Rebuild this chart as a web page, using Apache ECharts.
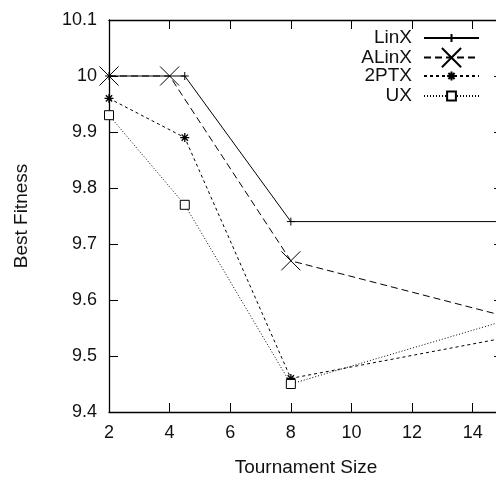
<!DOCTYPE html>
<html><head><meta charset="utf-8">
<script src="https://cdn.jsdelivr.net/npm/echarts@6/dist/echarts.min.js"></script>
<style>html,body{margin:0;padding:0;background:#fff}#c{width:496px;height:478px}</style>
</head><body><div id="c"></div>
<script>
const seriesNames = ['LinX', 'ALinX', '2PTX', 'UX'];
const linX  = [[2, 10.0], [4.5, 10.0], [8, 9.74], [16, 9.74]];
const aLinX = [[2, 10.0], [4, 10.0], [8, 9.67], [16, 9.558]];
const ptx2  = [[2, 9.96], [4.5, 9.89], [8, 9.46], [16, 9.542]];
const ux    = [[2, 9.93], [4.5, 9.77], [8, 9.45], [16, 9.578]];
const xTicks = [2, 4, 6, 8, 10, 12, 14];
const yTicks = [9.4, 9.5, 9.6, 9.7, 9.8, 9.9, 10, 10.1];

const FONT = 'Liberation Sans, Arial, sans-serif';
const C = '#000';
const TXT = '#111';
const symPlus = 'path://M0,-10L0,10M-10,0L10,0';
const symX = 'path://M-10,-10L10,10M-10,10L10,-10';
const symStar = 'path://M0,-10L0,10M-10,0L10,0M-7,-7L7,7M-7,7L7,-7';

function mk(name, data, sym, size, dash, fill, bw) {
  return {
    name, type: 'line', data,
    symbol: sym, symbolSize: size, showAllSymbol: true,
    itemStyle: {color: fill || C, borderColor: C, borderWidth: bw || 1},
    lineStyle: {color: C, width: 1, type: dash},
    clip: true, animation: false, z: 3
  };
}

const axisCommon = {
  axisLine: {show: true, lineStyle: {color: C, width: 1.3}},
  axisTick: {show: true, inside: true, length: 9, lineStyle: {color: C, width: 1}},
  splitLine: {show: false}
};

// one legend per entry so each sample marker can have its own size
const legendRows = [
  {name: 'LinX', center: 38, iconH: 10},
  {name: 'ALinX', center: 57, iconH: 24},
  {name: '2PTX', center: 76, iconH: 11},
  {name: 'UX', center: 96, iconH: 11}
];
const legends = legendRows.map(r => ({
  orient: 'vertical', align: 'right', right: 16, padding: 0,
  top: r.center - 10,
  itemWidth: 55, itemHeight: r.iconH, itemGap: 0,
  textStyle: {fontFamily: FONT, fontSize: 19, color: TXT, width: 62, height: 20, lineHeight: 20, align: 'right', padding: [0, 7, 0, 0]},
  data: [r.name]
}));

const chart = echarts.init(document.getElementById('c'), null, {renderer: 'canvas'});
chart.setOption({
  animation: false,
  backgroundColor: '#fff',
  textStyle: {fontFamily: FONT},
  grid: {left: 109, top: 20, right: -7, bottom: 66, containLabel: false, outerBoundsMode: 'none'},
  legend: legends,
  xAxis: [
    Object.assign({type: 'value', position: 'bottom', min: 2, max: 15, interval: 2,
      name: 'Tournament Size', nameLocation: 'middle', nameGap: 46,
      nameTextStyle: {fontFamily: FONT, fontSize: 19, color: TXT},
      axisLabel: {fontFamily: FONT, fontSize: 18, color: TXT, margin: 12, showMaxLabel: false,
        formatter: v => xTicks.includes(v) ? String(v) : ''}}, axisCommon),
    Object.assign({type: 'value', position: 'top', min: 2, max: 15, interval: 2,
      axisLabel: {show: false}}, axisCommon)
  ],
  yAxis: [
    Object.assign({type: 'value', position: 'left', min: 9.4, max: 10.1, interval: 0.1,
      name: 'Best Fitness', nameLocation: 'middle', nameGap: 78, nameRotate: 90,
      nameTextStyle: {fontFamily: FONT, fontSize: 19, color: TXT},
      axisLabel: {fontFamily: FONT, fontSize: 18, color: TXT, margin: 12,
        formatter: v => { const t = yTicks.find(y => Math.abs(y - v) < 1e-6); return t === undefined ? '' : String(t); }}}, axisCommon),
    Object.assign({type: 'value', position: 'right', min: 9.4, max: 10.1, interval: 0.1,
      axisLabel: {show: false}}, axisCommon)
  ],
  series: [
    mk('LinX', linX, symPlus, 8, 'solid'),
    mk('ALinX', aLinX, symX, 19, [7, 4]),
    mk('2PTX', ptx2, symStar, 9, [3, 3], null, 1.3),
    mk('UX', ux, 'rect', 9, [1, 2], '#fff')
  ]
});
</script></body></html>
